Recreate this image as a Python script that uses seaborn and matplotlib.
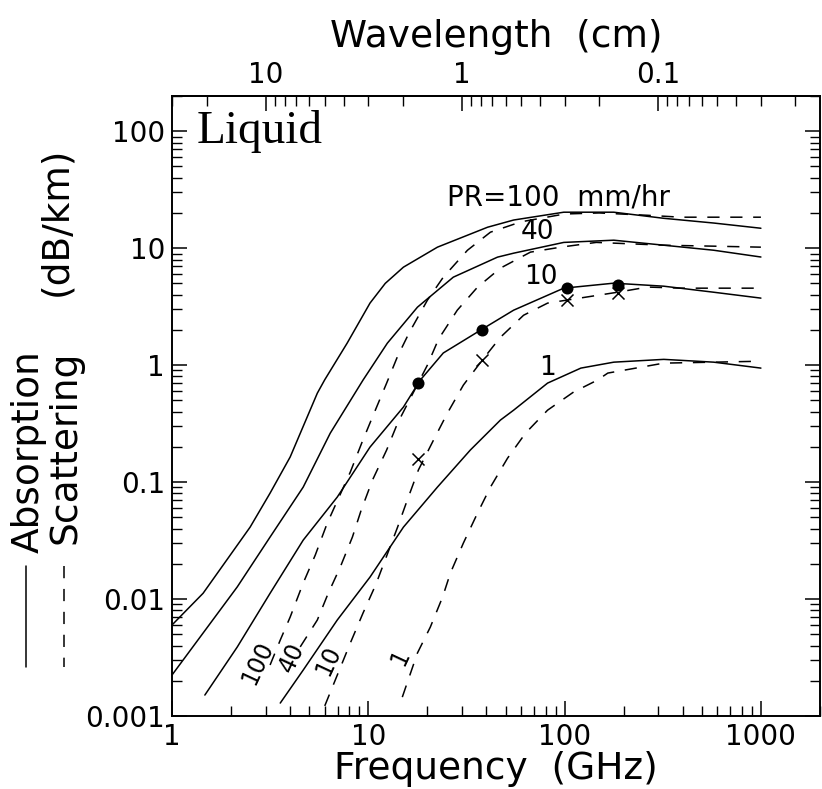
import numpy as np
import pandas as pd
import matplotlib
matplotlib.use("Agg")
import matplotlib.pyplot as plt
import seaborn as sns
from matplotlib.ticker import LogLocator, FixedLocator, FixedFormatter, NullFormatter
from matplotlib.lines import Line2D

# ---------------- data ----------------
# Absorption (solid)
abs100_f = [1.0, 1.44, 2.5, 3.16, 4.0, 5.5, 6.0, 7.8, 10.2, 12.2, 15.1, 22.5, 40.5, 55, 99, 178, 320, 575, 1000]
abs100_v = [0.0060, 0.0112, 0.0412, 0.0805, 0.164, 0.576, 0.75, 1.54, 3.39, 5.0, 6.88, 10.2, 15.1, 17.4, 20.3, 20.3, 18.0, 16.4, 14.8]

abs40_f = [1.0, 1.44, 2.15, 3.16, 4.66, 6.4, 9.4, 12.5, 17.8, 27.1, 45.5, 55, 99, 178, 320, 575, 1000]
abs40_v = [0.00224, 0.00512, 0.0127, 0.0339, 0.0906, 0.262, 0.745, 1.54, 3.13, 5.65, 8.38, 9.06, 11.2, 11.7, 10.6, 9.6, 8.4]

abs10_f = [1.47, 2.15, 3.16, 4.66, 6.95, 10.2, 15.1, 18.4, 24.1, 37.3, 55, 99, 178, 320, 575, 1000]
abs10_v = [0.00151, 0.00389, 0.0112, 0.0319, 0.0745, 0.199, 0.438, 0.745, 1.27, 1.99, 2.95, 4.55, 5.02, 4.73, 4.2, 3.74]

abs1_f = [3.56, 4.66, 6.95, 10.2, 15.1, 22.5, 33.1, 47.1, 55, 81.9, 121, 178, 320, 575, 1000]
abs1_v = [0.00129, 0.00247, 0.00662, 0.0154, 0.0412, 0.0906, 0.188, 0.339, 0.412, 0.702, 0.943, 1.06, 1.12, 1.06, 0.943]

# Scattering (dashed)
sca100_f = [3.16, 3.56, 4.0, 4.66, 5.37, 6.18, 8.1, 9.3, 10.6, 12.4, 14.1, 16.2, 20, 24.1, 32, 41.9, 60, 100, 150, 265, 391, 575, 1000]
sca100_v = [0.00273, 0.00446, 0.00702, 0.0137, 0.0238, 0.0446, 0.122, 0.22, 0.374, 0.702, 1.19, 1.91, 3.59, 5.65, 9.6, 13.7, 16.8, 19.6, 20.0, 19.1, 18.4, 18.4, 18.4]

sca40_f = [4.5, 5.5, 6.25, 7.2, 8.3, 9.2, 10.5, 12.4, 14.1, 20, 22.8, 28.4, 36, 47.1, 67, 95.5, 145, 320, 575, 1000]
sca40_v = [0.0039, 0.00662, 0.0112, 0.0188, 0.0339, 0.0576, 0.104, 0.188, 0.319, 1.0, 1.67, 2.95, 4.64, 6.75, 9.25, 10.2, 11.2, 10.6, 10.4, 10.2]

sca10_f = [6.0, 8.1, 9.4, 10.9, 14.1, 15.8, 18, 21.5, 25.3, 30.5, 38, 47.1, 61.8, 81.9, 103, 186, 265, 391, 1000]
sca10_v = [0.00122, 0.00421, 0.00759, 0.0132, 0.0412, 0.0702, 0.127, 0.229, 0.389, 0.675, 1.1, 1.73, 2.67, 3.39, 3.6, 4.2, 4.65, 4.55, 4.55]

sca1_f = [14.9, 17.8, 20.7, 23.9, 26.2, 30.5, 36, 41.9, 51.2, 63.2, 81.9, 111, 147, 166, 320, 575, 1000]
sca1_v = [0.00145, 0.00346, 0.00576, 0.0104, 0.0167, 0.0301, 0.0543, 0.0906, 0.16, 0.262, 0.412, 0.588, 0.745, 0.855, 1.04, 1.06, 1.08]

# Markers on the PR=10 curves
dot_f = [18, 38, 103, 186]
dot_v = [0.70, 1.99, 4.55, 4.83]
cross_f = [18, 38, 103, 186]
cross_v = [0.156, 1.1, 3.6, 4.12]

x_ticks = [1, 10, 100, 1000]
x_ticklabels = ["1", "10", "100", "1000"]
y_ticks = [0.001, 0.01, 0.1, 1, 10, 100]
y_ticklabels = ["0.001", "0.01", "0.1", "1", "10", "100"]
wl_ticks = [10, 1, 0.1]
wl_ticklabels = ["10", "1", "0.1"]

curves = [
    ("abs100", "Absorption", abs100_f, abs100_v),
    ("abs40", "Absorption", abs40_f, abs40_v),
    ("abs10", "Absorption", abs10_f, abs10_v),
    ("abs1", "Absorption", abs1_f, abs1_v),
    ("sca100", "Scattering", sca100_f, sca100_v),
    ("sca40", "Scattering", sca40_f, sca40_v),
    ("sca10", "Scattering", sca10_f, sca10_v),
    ("sca1", "Scattering", sca1_f, sca1_v),
]
rows = []
for name, proc, fs, vs in curves:
    for f, v in zip(fs, vs):
        rows.append({"curve": name, "process": proc, "freq": f, "atten": v})
df = pd.DataFrame(rows)

# ---------------- style ----------------
sns.set_theme(style="ticks")
plt.rcParams['font.family'] = ['DejaVu Sans']
for k in ["text.color", "axes.labelcolor", "xtick.color", "ytick.color", "axes.edgecolor"]:
    plt.rcParams[k] = "black"
plt.rcParams['axes.linewidth'] = 1.4
plt.rcParams['xtick.major.width'] = 1.1
plt.rcParams['ytick.major.width'] = 1.1
plt.rcParams['xtick.minor.width'] = 1.0
plt.rcParams['ytick.minor.width'] = 1.0

fig = plt.figure(figsize=(8.22, 7.89), dpi=100)
W, H = 822, 789
ax = fig.add_axes([172 / W, 1 - 716 / H, (820 - 172) / W, (716 - 96) / H])

sns.lineplot(data=df, x="freq", y="atten", units="curve", estimator=None,
             style="process", dashes={"Absorption": "", "Scattering": (8, 7)},
             color="black", linewidth=1.1, legend=False, sort=False, ax=ax)
sns.scatterplot(x=dot_f, y=dot_v, marker="o", s=75, color="black",
                edgecolor="black", linewidth=0, ax=ax, zorder=5)
sns.scatterplot(x=cross_f, y=cross_v, marker="x", s=75, color="black",
                linewidth=1.1, ax=ax, zorder=5)

ax.set_xscale("log")
ax.set_yscale("log")
ax.set_xlim(1, 2000)
ax.set_ylim(0.001, 200)

ax.xaxis.set_major_locator(FixedLocator(x_ticks))
ax.xaxis.set_major_formatter(FixedFormatter(x_ticklabels))
ax.xaxis.set_minor_locator(LogLocator(base=10, subs=np.arange(2, 10)))
ax.xaxis.set_minor_formatter(NullFormatter())
ax.yaxis.set_major_locator(FixedLocator(y_ticks))
ax.yaxis.set_major_formatter(FixedFormatter(y_ticklabels))
ax.yaxis.set_minor_locator(LogLocator(base=10, subs=np.arange(2, 10)))
ax.yaxis.set_minor_formatter(NullFormatter())

ax.tick_params(which="both", direction="in", top=False, right=True, color="black",
               labelcolor="black")
ax.tick_params(which="major", length=11, labelsize=20, pad=5)
ax.tick_params(which="minor", length=7)
for sp in ax.spines.values():
    sp.set_visible(True)
    sp.set_color("black")

ax.set_xlabel("Frequency  (GHz)", fontsize=27, labelpad=0, color="black")
ax.set_ylabel("")


def f2w(f):
    f = np.asarray(f, dtype=float)
    with np.errstate(divide="ignore", invalid="ignore"):
        return 30.0 / f


secax = ax.secondary_xaxis("top", functions=(f2w, f2w))
secax.xaxis.set_major_locator(FixedLocator(wl_ticks))
secax.xaxis.set_major_formatter(FixedFormatter(wl_ticklabels))
secax.xaxis.set_minor_locator(LogLocator(base=10, subs=np.arange(2, 10)))
secax.xaxis.set_minor_formatter(NullFormatter())
secax.tick_params(which="both", direction="in", color="black", labelcolor="black")
secax.tick_params(which="major", length=11, labelsize=20, pad=5)
secax.tick_params(which="minor", length=7)
secax.set_xlabel("Wavelength  (cm)", fontsize=27, labelpad=10, color="black")

# annotations
ax.text(1.34, 78.9, "Liquid", fontsize=34, family=["Liberation Serif", "DejaVu Serif"],
        ha="left", va="baseline")
ax.text(25.3, 27.3, "PR=100  mm/hr", fontsize=20, ha="left", va="center")
ax.text(72.8, 13.7, "40", fontsize=19, ha="center", va="center")
ax.text(75.5, 5.65, "10", fontsize=19, ha="center", va="center")
ax.text(81.9, 0.94, "1", fontsize=19, ha="center", va="center")
ax.text(2.72, 0.00284, "100", fontsize=17, ha="center", va="center", rotation=65)
ax.text(4.1, 0.00319, "40", fontsize=17, ha="center", va="center", rotation=65)
ax.text(6.25, 0.00301, "10", fontsize=17, ha="center", va="center", rotation=65)
ax.text(14.6, 0.00319, "1", fontsize=17, ha="center", va="center", rotation=65)

# composite y label
fig.text(56 / W, 1 - 221 / H, "(dB/km)", fontsize=27, rotation=90, ha="center", va="center")
fig.text(29 / W, 1 - 452 / H, "Absorption", fontsize=27, rotation=90, ha="center", va="center")
fig.text(66 / W, 1 - 447 / H, "Scattering", fontsize=27, rotation=90, ha="center", va="center")
fig.add_artist(Line2D([26 / W, 26 / W], [1 - 566 / H, 1 - 667 / H], color="black", lw=1.1,
                      transform=fig.transFigure))
fig.add_artist(Line2D([64 / W, 64 / W], [1 - 566 / H, 1 - 667 / H], color="black", lw=1.1,
                      linestyle=(0, (8, 7)), transform=fig.transFigure))

fig.savefig("out.png", dpi=100)
